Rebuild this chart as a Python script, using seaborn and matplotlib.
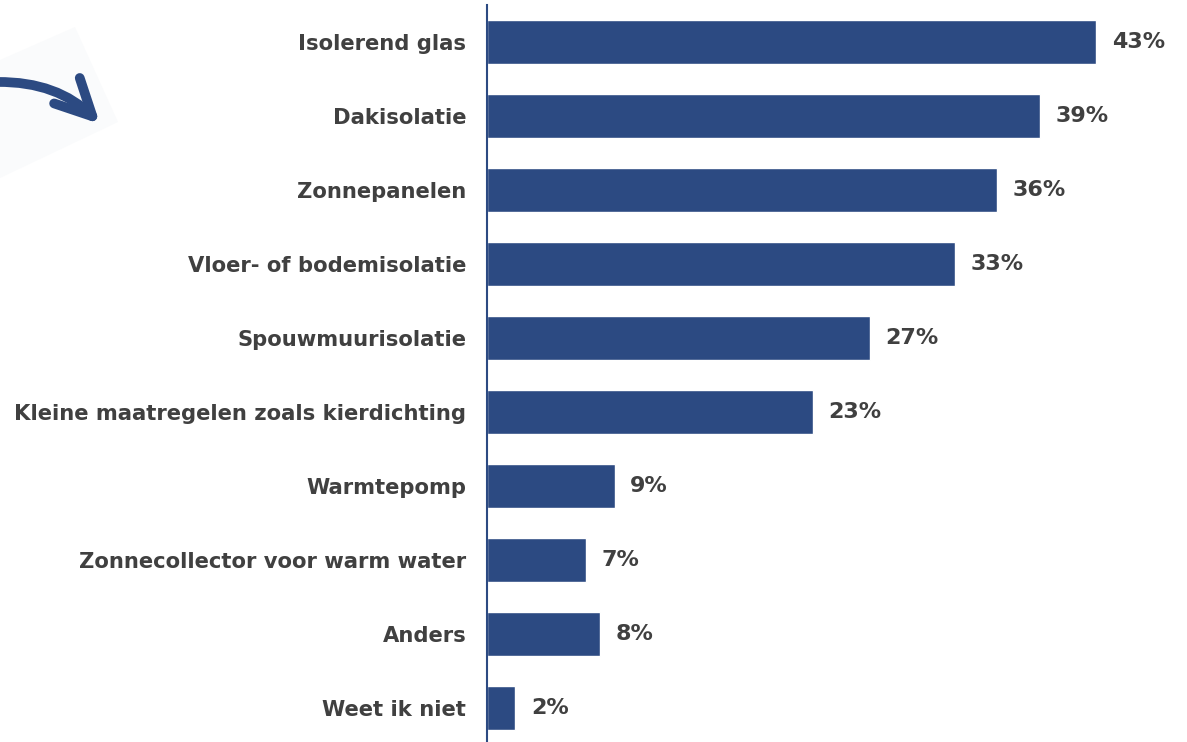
import seaborn as sns
import matplotlib.pyplot as plt
import pandas as pd
from matplotlib.patches import FancyArrowPatch, Polygon

categories = ["Isolerend glas", "Dakisolatie", "Zonnepanelen", "Vloer- of bodemisolatie",
              "Spouwmuurisolatie", "Kleine maatregelen zoals kierdichting", "Warmtepomp",
              "Zonnecollector voor warm water", "Anders", "Weet ik niet"]
values = [43, 39, 36, 33, 27, 23, 9, 7, 8, 2]

df = pd.DataFrame({"categorie": categories, "pct": values})

bar_color = "#2C4A82"
text_color = "#404040"

sns.set_theme(style="white")
fig = plt.figure(figsize=(11.87, 7.42), dpi=100)
ax = fig.add_axes([487 / 1187, -3 / 742, 700 / 1187, 740 / 742])

sns.barplot(data=df, x="pct", y="categorie", color=bar_color, width=0.6,
            saturation=1, ax=ax)
ax.set_xlim(0, 49.4)
ax.set_ylim(9.5, -0.5)
ax.set_xlabel("")
ax.set_ylabel("")
ax.set_xticks([])
ax.tick_params(axis="y", length=0, pad=15)
for lbl in ax.get_yticklabels():
    lbl.set_fontweight("bold")
    lbl.set_fontsize(15.2)
    lbl.set_color(text_color)
sns.despine(ax=ax, top=True, right=True, bottom=True)
ax.spines["left"].set_color(bar_color)
ax.spines["left"].set_linewidth(1.5)

for i, v in enumerate(values):
    ax.text(v + 1.1, i, f"{v}%", va="center", ha="left", fontsize=16,
            fontweight="bold", color=text_color)

# decorative arrow in the top-left corner
bg = Polygon([(75 / 1187, 1 - 27 / 742), (118 / 1187, 1 - 122 / 742),
              (0, 1 - 178 / 742), (0, 1 - 60 / 742)],
             closed=True, transform=fig.transFigure, facecolor="#FAFBFC",
             edgecolor="none", zorder=0)
fig.patches.append(bg)
arrow = FancyArrowPatch((-5 / 1187, 1 - 82 / 742), (102 / 1187, 1 - 126 / 742),
                        transform=fig.transFigure,
                        connectionstyle="arc3,rad=-0.22",
                        arrowstyle="->,head_length=26,head_width=13",
                        linewidth=7, color=bar_color, zorder=1,
                        capstyle="round", joinstyle="round")
fig.patches.append(arrow)

fig.savefig("out.png", dpi=100)
